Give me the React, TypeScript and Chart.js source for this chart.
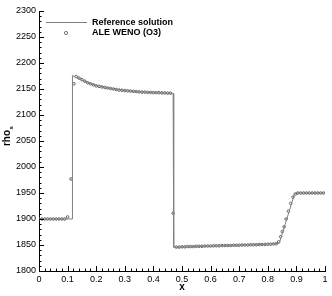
import React, { useEffect, useRef } from "react";
import { Chart, registerables } from "chart.js";

Chart.register(...registerables);

// Reference solution (line)
const refX = [0, 0.116, 0.117, 0.13, 0.15, 0.2, 0.25, 0.3, 0.35, 0.4, 0.45, 0.469, 0.471, 0.5, 0.6, 0.7, 0.8, 0.84, 0.893, 0.9, 1.0];
const refY = [1900, 1900, 2176, 2172, 2167, 2157, 2151, 2147, 2144.5, 2143, 2142, 2141.5, 1845.5, 1846, 1848, 1849.5, 1851.5, 1853.5, 1947, 1950, 1950];

// ALE WENO (O3) markers
const numX = [
  0, 0.01, 0.02, 0.03, 0.04, 0.05, 0.06, 0.07, 0.08, 0.09,
  0.1, 0.112, 0.122, 0.13, 0.14, 0.15, 0.16, 0.17, 0.18, 0.19,
  0.2, 0.21, 0.22, 0.23, 0.24, 0.25, 0.26, 0.27, 0.28, 0.29,
  0.3, 0.31, 0.32, 0.33, 0.34, 0.35, 0.36, 0.37, 0.38, 0.39,
  0.4, 0.41, 0.42, 0.43, 0.44, 0.45, 0.46, 0.469, 0.48, 0.49,
  0.5, 0.51, 0.52, 0.53, 0.54, 0.55, 0.56, 0.57, 0.58, 0.59,
  0.6, 0.61, 0.62, 0.63, 0.64, 0.65, 0.66, 0.67, 0.68, 0.69,
  0.7, 0.71, 0.72, 0.73, 0.74, 0.75, 0.76, 0.77, 0.78, 0.79,
  0.8, 0.81, 0.82, 0.83, 0.838, 0.845, 0.851, 0.857, 0.864, 0.872,
  0.88, 0.888, 0.896, 0.905, 0.915, 0.925, 0.935, 0.945, 0.955, 0.965,
  0.975, 0.985, 0.995,
];
const numY = [
  1900, 1900, 1900, 1900, 1900, 1900, 1900, 1900, 1900, 1900,
  1904, 1977, 2160, 2174, 2171, 2168, 2165, 2162, 2160, 2158,
  2156, 2155, 2154, 2153, 2152, 2151, 2150, 2149, 2148, 2147.5,
  2147, 2146.5, 2146, 2145.5, 2145, 2144.5, 2144, 2144, 2143.5, 2143.5,
  2143, 2143, 2143, 2142.5, 2142.5, 2142, 2142, 1911, 1846, 1846,
  1846.5, 1846.5, 1847, 1847, 1847, 1847.5, 1847.5, 1847.5, 1848, 1848,
  1848, 1848.5, 1848.5, 1848.5, 1849, 1849, 1849, 1849, 1849.5, 1849.5,
  1849.5, 1850, 1850, 1850, 1850.5, 1850.5, 1850.5, 1851, 1851, 1851,
  1851.5, 1851.5, 1852, 1852.5, 1856, 1866, 1876, 1885, 1900, 1915,
  1930, 1942, 1948, 1950, 1950, 1950, 1950, 1950, 1950, 1950,
  1950, 1950, 1950,
];

const xTicks = [0, 0.1, 0.2, 0.3, 0.4, 0.5, 0.6, 0.7, 0.8, 0.9, 1];
const yTicks = [1800, 1850, 1900, 1950, 2000, 2050, 2100, 2150, 2200, 2250, 2300];
const legendLabels = ["Reference solution", "ALE WENO (O3)"];

const FONT = "Arial, 'Liberation Sans', Helvetica, sans-serif";

const decorPlugin = {
  id: "decor",
  afterDraw(chart: any) {
    const ctx = chart.ctx;
    const xs = chart.scales.x;
    const ys = chart.scales.y;
    const area = chart.chartArea;
    ctx.save();
    ctx.strokeStyle = "#000";
    ctx.lineWidth = 1;
    // x ticks (inward)
    for (let i = 0; i <= 50; i++) {
      const v = i * 0.02;
      const px = Math.round(xs.getPixelForValue(v)) + 0.5;
      const len = i % 5 === 0 ? 5 : 2.5;
      ctx.beginPath();
      ctx.moveTo(px, area.bottom);
      ctx.lineTo(px, area.bottom - len);
      ctx.stroke();
    }
    // y ticks (inward)
    for (let i = 0; i <= 50; i++) {
      const v = 1800 + i * 10;
      const py = Math.round(ys.getPixelForValue(v)) + 0.5;
      const len = i % 5 === 0 ? 5 : 2.5;
      ctx.beginPath();
      ctx.moveTo(area.left, py);
      ctx.lineTo(area.left + len, py);
      ctx.stroke();
    }
    // axis titles
    ctx.fillStyle = "#000";
    ctx.font = `bold 10px ${FONT}`;
    ctx.textAlign = "center";
    ctx.textBaseline = "middle";
    ctx.fillText("x", (area.left + area.right) / 2, 287);

    ctx.save();
    ctx.translate(10, 138);
    ctx.rotate(-Math.PI / 2);
    ctx.textAlign = "center";
    ctx.textBaseline = "alphabetic";
    ctx.font = `bold 10px ${FONT}`;
    ctx.fillText("rho", 0, 0);
    const w = ctx.measureText("rho").width;
    ctx.font = `bold 6px ${FONT}`;
    ctx.textAlign = "left";
    ctx.fillText("s", w / 2 + 0.5, 2.5);
    ctx.restore();

    // legend
    ctx.strokeStyle = "#808080";
    ctx.lineWidth = 1;
    ctx.beginPath();
    ctx.moveTo(46, 22.5);
    ctx.lineTo(87, 22.5);
    ctx.stroke();
    ctx.strokeStyle = "#555";
    ctx.lineWidth = 0.8;
    ctx.beginPath();
    ctx.arc(66, 33, 1.6, 0, Math.PI * 2);
    ctx.stroke();
    ctx.fillStyle = "#000";
    ctx.font = `bold 9px ${FONT}`;
    ctx.textAlign = "left";
    ctx.textBaseline = "middle";
    ctx.fillText(legendLabels[0], 92, 22.5);
    ctx.fillText(legendLabels[1], 92, 33);
    ctx.restore();
  },
};

export default function App() {
  const ref = useRef<HTMLCanvasElement>(null);
  useEffect(() => {
    if (!ref.current) return;
    const chart = new Chart(ref.current, {
      type: "scatter",
      data: {
        datasets: [
          {
            label: legendLabels[0],
            data: refX.map((x, i) => ({ x, y: refY[i] })),
            showLine: true,
            borderColor: "#808080",
            borderWidth: 1,
            pointRadius: 0,
            fill: false,
            tension: 0,
          },
          {
            label: legendLabels[1],
            data: numX.map((x, i) => ({ x, y: numY[i] })),
            showLine: false,
            pointStyle: "circle",
            pointRadius: 1.3,
            pointBorderWidth: 0.8,
            borderColor: "#444",
            backgroundColor: "rgba(0,0,0,0)",
          },
        ],
      },
      options: {
        responsive: false,
        animation: false,
        events: [],
        layout: { padding: { top: 11, right: 7, left: 0, bottom: 0 } },
        plugins: { legend: { display: false }, tooltip: { enabled: false } },
        scales: {
          x: {
            type: "linear",
            min: 0,
            max: 1,
            afterBuildTicks: (s: any) => {
              s.ticks = xTicks.map((v) => ({ value: v }));
            },
            afterFit: (s: any) => {
              s.height = 25;
            },
            ticks: {
              color: "#000",
              font: { size: 9, family: FONT },
              padding: 3,
              maxRotation: 0,
              autoSkip: false,
              callback: (v: any) => String(Number(Number(v).toFixed(1))),
            },
            grid: { drawOnChartArea: false, drawTicks: false },
            border: { display: true, color: "#000", width: 1 },
          },
          y: {
            type: "linear",
            min: 1800,
            max: 2300,
            afterBuildTicks: (s: any) => {
              s.ticks = yTicks.map((v) => ({ value: v }));
            },
            afterFit: (s: any) => {
              s.width = 39;
            },
            ticks: {
              color: "#000",
              font: { size: 9, family: FONT },
              padding: 3,
              autoSkip: false,
              callback: (v: any) => String(v),
            },
            grid: { drawOnChartArea: false, drawTicks: false },
            border: { display: true, color: "#000", width: 1 },
          },
        },
      },
      plugins: [decorPlugin],
    });
    return () => chart.destroy();
  }, []);
  return (
    <div style={{ position: "absolute", left: 0, top: 0, width: 332, height: 296, background: "#fff" }}>
      <canvas ref={ref} width={332} height={296} style={{ display: "block" }} />
    </div>
  );
}
